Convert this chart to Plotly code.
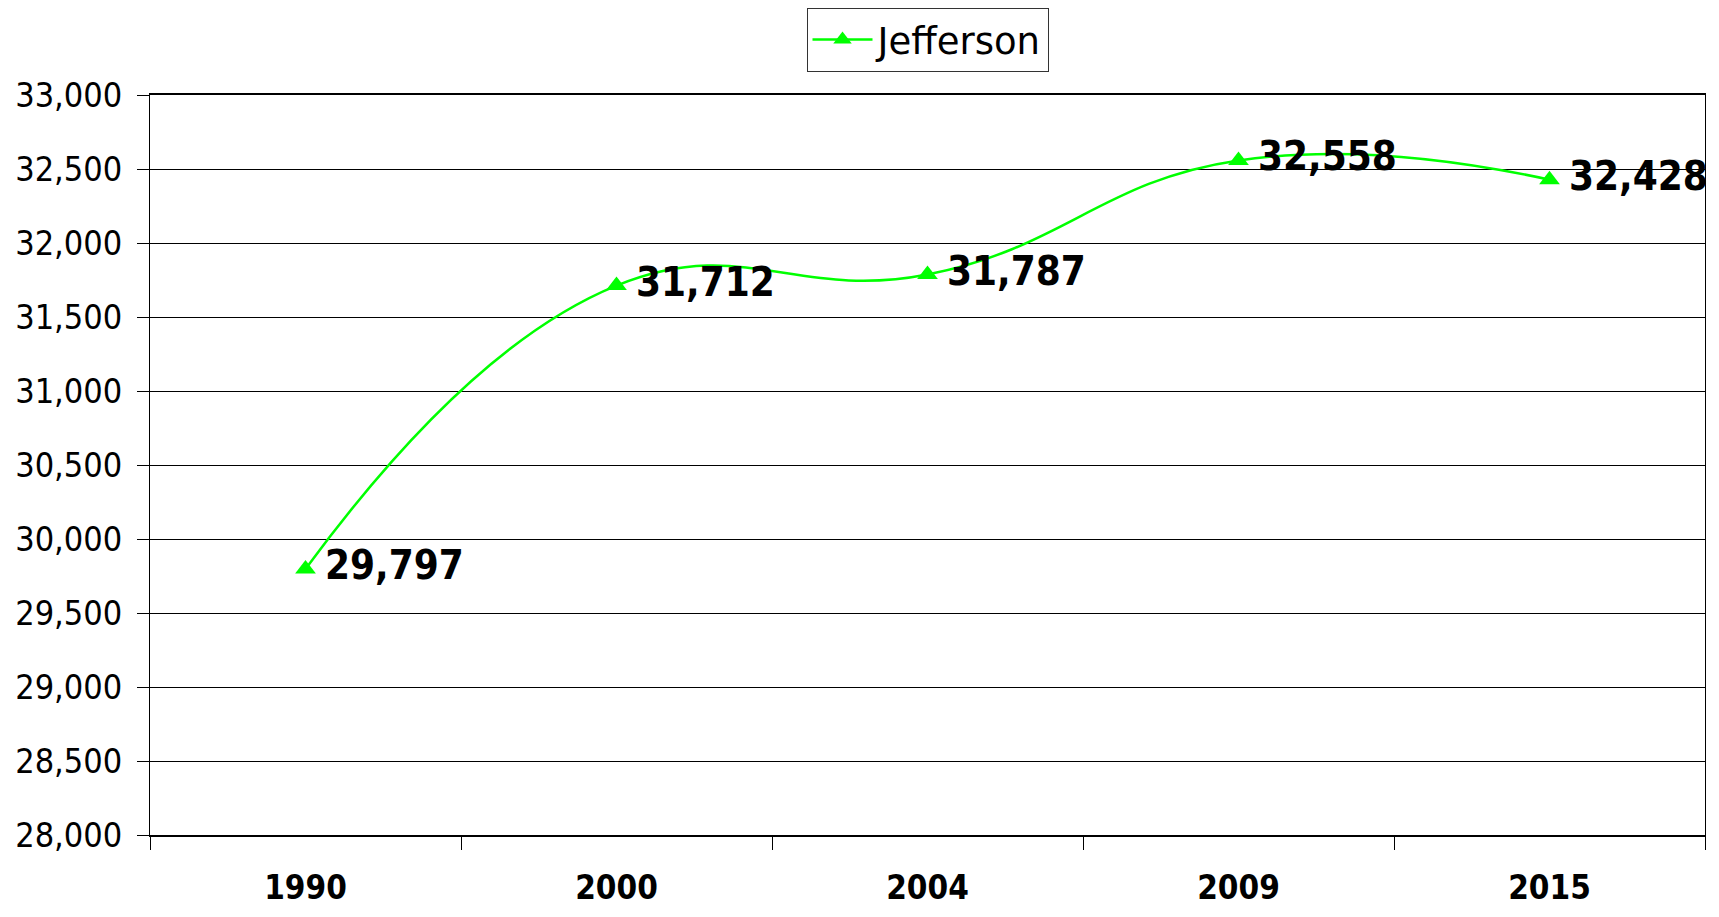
import plotly.graph_objects as go

years = ["1990", "2000", "2004", "2009", "2015"]
values = [29797, 31712, 31787, 32558, 32428]
labels = ["\u2009" + f"{v:,}" for v in values]
series_name = "Jefferson"

y_min, y_max, y_step = 28000, 33000, 500

GREEN = "#00FF00"
FONT = "DejaVu Sans Condensed, DejaVu Sans, sans-serif"

fig = go.Figure()
fig.add_trace(go.Scatter(
    x=years, y=values, name=series_name,
    mode="lines+markers+text",
    line=dict(color=GREEN, width=2.5, shape="spline", smoothing=1.3),
    marker=dict(symbol="triangle-up", size=18, color=GREEN),
    text=labels, textposition="middle right",
    textfont=dict(family=FONT, size=40, color="black", weight="bold"),
    cliponaxis=False,
))

fig.update_layout(
    width=1719, height=917,
    margin=dict(l=150, r=14, t=95, b=82, autoexpand=False),
    paper_bgcolor="white", plot_bgcolor="white",
    showlegend=True,
    legend=dict(
        orientation="h", x=0.5, xanchor="center", y=1.1176, yanchor="top",
        bordercolor="#333333", borderwidth=1,
        font=dict(family="DejaVu Sans, sans-serif", size=37, color="black"),
        itemwidth=60,
    ),
    xaxis=dict(
        type="category", range=[-0.5, 4.5], automargin=False,
        tickson="boundaries", ticks="outside", ticklen=13, tickcolor="black", tickwidth=1,
        showline=True, linecolor="black", linewidth=2, mirror=True,
        showgrid=False,
        tickfont=dict(family=FONT, size=33, color="black", weight="bold"),
        ticklabelstandoff=22,
    ),
    yaxis=dict(
        range=[y_min, y_max], dtick=y_step, tick0=y_min, tickformat=",",
        automargin=False,
        ticks="outside", ticklen=12, tickcolor="black", tickwidth=1,
        showline=True, linecolor="black", linewidth=1, mirror=True,
        showgrid=True, gridcolor="black", gridwidth=1,
        zeroline=False,
        tickfont=dict(family=FONT, size=34, color="black"),
        ticklabelstandoff=8,
    ),
)

fig.write_html(
    "out.html",
    config={"displayModeBar": False},
    post_script="document.body.style.margin='0';document.body.style.overflow='hidden';",
)
